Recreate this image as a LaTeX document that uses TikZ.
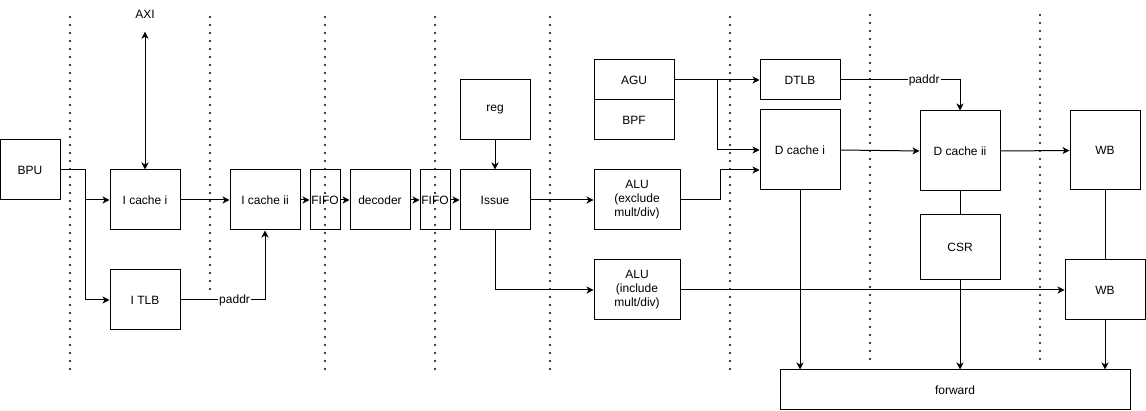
\documentclass[tikz,border=0pt]{standalone}
\usepackage{fontspec}
\setmainfont{Liberation Sans}
\usetikzlibrary{arrows.meta}
\tikzset{
	tip/.tip={Stealth[length=7pt,width=7pt,inset=2pt]},
	blk/.style={draw,line width=1pt,inner sep=0pt,align=center,font=\fontsize{12}{14}\selectfont},
	arr/.style={line width=1pt,-tip},
	both/.style={line width=1pt,tip-tip},
	wire/.style={line width=1pt},
	sep/.style={line width=2.4pt,line cap=round,dash pattern=on 0pt off 8pt},
	lbl/.style={fill=white,inner sep=1pt,font=\fontsize{12}{14}\selectfont}
}
\begin{document}
\begin{tikzpicture}[x=1pt,y=-1pt]
		\useasboundingbox (0,0) rectangle (1146,411);
		\node[blk,minimum width=60,minimum height=60](bpu) at (30,170){BPU};
		\node[font=\fontsize{12}{14}\selectfont](axi) at (145,14){AXI};
		\node[blk,minimum width=70,minimum height=60](icachei) at (145,200){I cache i};
		\node[blk,minimum width=70,minimum height=60](itlb) at (145,300){I TLB};
		\node[blk,minimum width=70,minimum height=60](icacheii) at (265,200){I cache ii};
		\node[blk,minimum width=30,minimum height=60](fifoa) at (325,200){FIFO};
		\node[blk,minimum width=60,minimum height=60](decoder) at (380,200){decoder};
		\node[blk,minimum width=30,minimum height=60](fifob) at (435,200){FIFO};
		\node[blk,minimum width=70,minimum height=60](reg) at (495,110){reg};
		\node[blk,minimum width=70,minimum height=60](issue) at (495,200){Issue};
		\node[blk,minimum width=80,minimum height=40](agu) at (634,80){AGU};
		\node[blk,minimum width=80,minimum height=40](bpf) at (634,120){BPF};
		\node[blk,minimum width=86,minimum height=60](aluex) at (637,200){ALU\\(exclude\\mult/div)};
		\node[blk,minimum width=86,minimum height=60](aluin) at (637,290){ALU\\(include\\mult/div)};
		\node[blk,minimum width=80,minimum height=40](dtlb) at (800,80){DTLB};
		\node[blk,minimum width=80,minimum height=80](dcachei) at (800,150){D cache i};
		\node[blk,minimum width=80,minimum height=80](dcacheii) at (960,151){D cache ii};
		\node[blk,minimum width=80,minimum height=65](csr) at (960,247.5){CSR};
		\node[blk,minimum width=70,minimum height=79](wba) at (1105,150.5){WB};
		\node[blk,minimum width=80,minimum height=60](wbb) at (1105,290){WB};
		\node[blk,minimum width=350,minimum height=40](forward) at (955,390){forward};
		\draw[arr](bpu.east)--++(25,0)|-(icachei.west);
		\draw[arr](bpu.east)--++(25,0)|-(itlb.west);
		\draw[both](axi.south)++(0,10)--(icachei.north);
		\draw[arr](icachei)--(icacheii);
		\draw[arr](itlb.east)-|node[lbl,pos=0.32]{paddr}(icacheii.south);
		\draw[arr](icacheii)--(fifoa);
		\draw[arr](fifoa)--(decoder);
		\draw[arr](decoder)--(fifob);
		\draw[arr](fifob)--(issue);
		\draw[arr](reg)--(issue);
		\draw[arr](issue)--(aluex);
		\draw[arr](issue.south)|-(aluin.west);
		\draw[arr](agu.east)--(dtlb.west);
		\draw[arr](agu.east)--++(43,0)|-(dcachei.west);
		\draw[arr](aluex.east)--++(40,0)|-([yshift=-20pt]dcachei.west);
		\draw[arr](dtlb.east)-|node[lbl,pos=0.35]{paddr}(dcacheii.north);
		\draw[arr](dcachei.east)--(dcacheii.west);
		\draw[arr](dcacheii.east)--(wba.west);
		\draw[wire](dcacheii)--(csr);
		\draw[wire](wba)--(wbb);
		\draw[arr](aluin)--(wbb);
		\draw[arr](dcachei.south)--(dcachei.south|-forward.north);
		\draw[arr](csr.south)--(csr.south|-forward.north);
		\draw[arr](wbb.south)--(wbb.south|-forward.north);
		\foreach \x/\a/\b in {70/17/370,210/17/290,325/17/370,435/17/370,550/17/370,730/17/370,870/15/360,1040/15/360}
			\draw[sep](\x,\a)--(\x,\b);
	    \end{tikzpicture}
\end{document}
